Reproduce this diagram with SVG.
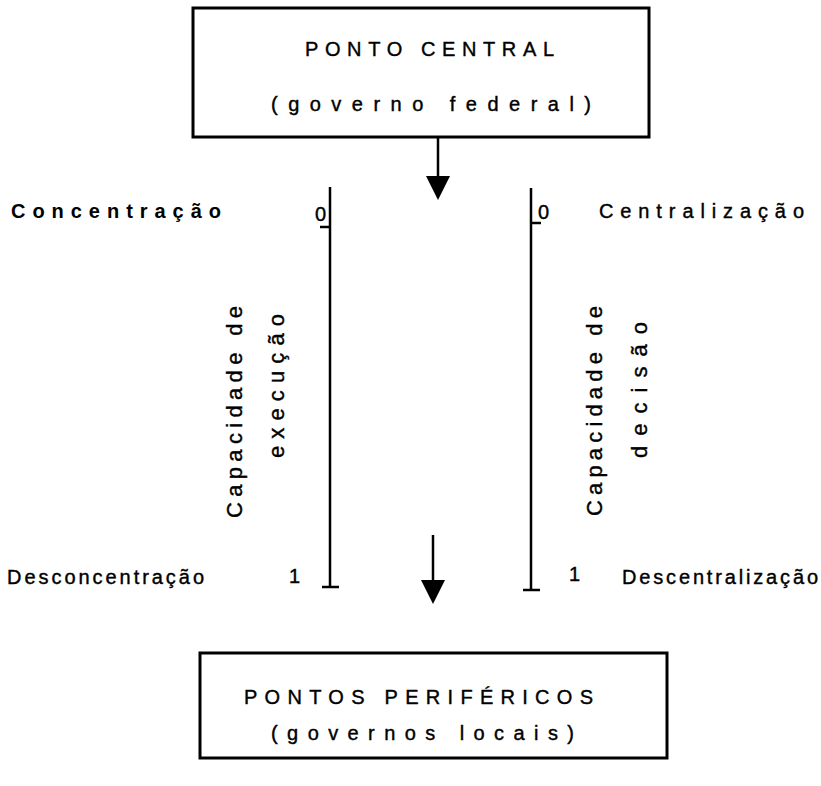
<svg xmlns="http://www.w3.org/2000/svg" width="821" height="786" viewBox="0 0 821 786">
<style>
.box{fill:#fff;stroke:#000;stroke-width:3}
.ln{stroke:#000;stroke-width:2.5;fill:none}
.t{font-family:"Liberation Sans",Arial,sans-serif;font-size:20px;fill:#000;stroke:#000;stroke-width:0.4}
.v{font-family:"Liberation Sans",Arial,sans-serif;font-size:22px;fill:#000;stroke:#000;stroke-width:0.4}
.b{font-weight:bold;stroke-width:0}
.ah{fill:#000}
</style>
<rect width="821" height="786" fill="#fff"/>
<g id="node-central">
<rect class="box" x="193" y="8" width="456" height="129"/>
<text class="t" x="305" y="56" textLength="249" lengthAdjust="spacing">PONTO CENTRAL</text>
<text class="t" x="271" y="111" textLength="320" lengthAdjust="spacing">(governo federal)</text>
</g>
<g id="node-perifericos">
<rect class="box" x="200" y="653" width="467" height="105"/>
<text class="t" x="244" y="704" textLength="349" lengthAdjust="spacing">PONTOS PERIFÉRICOS</text>
<text class="t" x="271" y="740" textLength="303" lengthAdjust="spacing">(governos locais)</text>
</g>
<g id="axis-execucao">
<line class="ln" x1="330" y1="187" x2="330" y2="587"/>
<line class="ln" x1="320" y1="227" x2="330" y2="227"/>
<line class="ln" x1="322" y1="587" x2="339" y2="587"/>
<text class="t" x="315" y="221">0</text>
<text class="t" x="289" y="583">1</text>
<text class="t b" x="11" y="218" textLength="210" lengthAdjust="spacing">Concentração</text>
<text class="t" x="7" y="584" textLength="197" lengthAdjust="spacing">Desconcentração</text>
<text class="v" transform="translate(242,518) rotate(-90)" textLength="212" lengthAdjust="spacing">Capacidade  de</text>
<text class="v" transform="translate(284,458) rotate(-90)" textLength="144" lengthAdjust="spacing">execução</text>
</g>
<g id="axis-decisao">
<line class="ln" x1="531" y1="188" x2="531" y2="590"/>
<line class="ln" x1="531" y1="223" x2="541" y2="223"/>
<line class="ln" x1="523" y1="590" x2="540" y2="590"/>
<text class="t" x="538" y="219">0</text>
<text class="t" x="569" y="581">1</text>
<text class="t" x="599" y="218" textLength="205" lengthAdjust="spacing">Centralização</text>
<text class="t" x="622" y="584" textLength="196" lengthAdjust="spacing">Descentralização</text>
<text class="v" transform="translate(602,516) rotate(-90)" textLength="210" lengthAdjust="spacing">Capacidade  de</text>
<text class="v" transform="translate(647,458) rotate(-90)" textLength="136" lengthAdjust="spacing">decisão</text>
</g>
<g id="connectors">
<line class="ln" x1="438" y1="137" x2="438" y2="180"/>
<polygon class="ah" points="426,176 450,176 438,200"/>
<line class="ln" x1="433" y1="535" x2="433" y2="584"/>
<polygon class="ah" points="421,580 445,580 433,604"/>
</g>
</svg>
